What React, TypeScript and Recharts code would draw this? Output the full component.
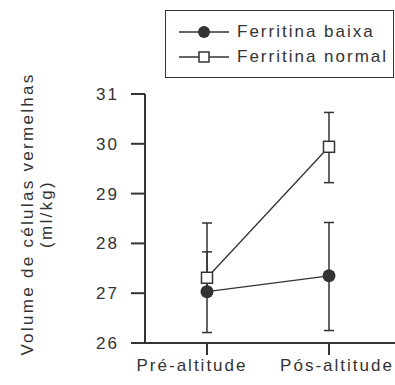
import { LineChart, Line, XAxis, YAxis, ErrorBar, Legend } from "recharts"

const stages = ["Pré-altitude", "Pós-altitude"]
const baixa = [27.03, 27.35]
const baixaErr = [[0.82, 1.38], [1.1, 1.07]]
const normal = [27.31, 29.94]
const normalErr = [[0.3, 0.52], [0.72, 0.69]]
const yTicks = [26, 27, 28, 29, 30, 31]

const data = stages.map((stage, i) => ({
  stage,
  baixa: baixa[i],
  baixaErr: baixaErr[i],
  normal: normal[i],
  normalErr: normalErr[i],
}))

const INK = "#333"
const FONT = "'Liberation Sans', Arial, sans-serif"
const txt = { fontFamily: FONT, fontSize: 17, letterSpacing: 2, fill: INK }

// the scanned labels sit a little off their ticks
const labelShift = [-15, 8]

function StageTick(props: any) {
  const { x, y, payload, index } = props
  return (
    <text {...txt} x={x + (labelShift[index] ?? 0)} y={y} dy="0.71em" textAnchor="middle">
      {payload.value}
    </text>
  )
}

function SquareDot(props: any) {
  const { cx, cy } = props
  if (cx == null || cy == null) return null
  return <rect x={cx - 5.5} y={cy - 5.5} width={11} height={11} fill="#fff" stroke={INK} strokeWidth={1.5} />
}

function YLabel() {
  return (
    <g>
      <text {...txt} letterSpacing={2.3} x={33} y={214} textAnchor="middle" transform="rotate(-90, 33, 214)">
        Volume de células vermelhas
      </text>
      <text {...txt} letterSpacing={2.3} x={52} y={214} textAnchor="middle" transform="rotate(-90, 52, 214)">
        (ml/kg)
      </text>
    </g>
  )
}

function LegendBox() {
  const row = (filled: boolean, label: string) => (
    <div style={{ display: "flex", alignItems: "center", height: 25 }}>
      <svg width={56} height={16} style={{ marginLeft: 12 }}>
        <line x1={1} y1={8} x2={51} y2={8} stroke={INK} strokeWidth={1.5} />
        {filled ? (
          <circle cx={26} cy={8} r={6} fill={INK} />
        ) : (
          <rect x={21} y={3} width={10} height={10} fill="#fff" stroke={INK} strokeWidth={1.5} />
        )}
      </svg>
      <span style={{ fontFamily: FONT, fontSize: 17, letterSpacing: 2, color: INK, marginLeft: 3 }}>{label}</span>
    </div>
  )
  return (
    <div
      style={{
        boxSizing: "border-box",
        width: 229,
        height: 68,
        border: `1.5px solid ${INK}`,
        paddingTop: 8,
        background: "#fff",
      }}
    >
      {row(true, "Ferritina baixa")}
      {row(false, "Ferritina normal")}
    </div>
  )
}

export default function App() {
  return (
    <div style={{ position: "absolute", left: 0, top: 0, background: "#fff" }}>
      <LineChart width={395} height={385} data={data} margin={{ top: 94, right: 0, bottom: 0, left: 0 }}>
        <XAxis
          dataKey="stage"
          scale="point"
          padding={{ left: 62, right: 66 }}
          height={42}
          tickSize={12}
          tickMargin={4}
          stroke={INK}
          strokeWidth={2}
          tick={<StageTick />}
          tickLine={{ stroke: INK, strokeWidth: 2 }}
        />
        <YAxis
          type="number"
          domain={[26, 31]}
          ticks={yTicks}
          width={145}
          tickSize={14}
          tickMargin={12}
          stroke={INK}
          strokeWidth={2}
          tick={{ ...txt }}
          tickLine={{ stroke: INK, strokeWidth: 2 }}
          label={{ content: () => <YLabel /> }}
        />
        <Legend
          layout="horizontal"
          verticalAlign="middle"
          align="center"
          wrapperStyle={{ top: 10, left: 165, width: 229, height: 68 }}
          content={() => <LegendBox />}
        />
        <Line
          dataKey="baixa"
          stroke={INK}
          strokeWidth={1.3}
          dot={{ r: 6.5, fill: INK, stroke: INK, strokeWidth: 0 }}
          isAnimationActive={false}
        >
          <ErrorBar dataKey="baixaErr" direction="y" width={5} stroke={INK} strokeWidth={1.5} isAnimationActive={false} />
        </Line>
        <Line
          dataKey="normal"
          stroke={INK}
          strokeWidth={1.3}
          dot={<SquareDot />}
          isAnimationActive={false}
        >
          <ErrorBar dataKey="normalErr" direction="y" width={5} stroke={INK} strokeWidth={1.5} isAnimationActive={false} />
        </Line>
      </LineChart>
    </div>
  )
}
